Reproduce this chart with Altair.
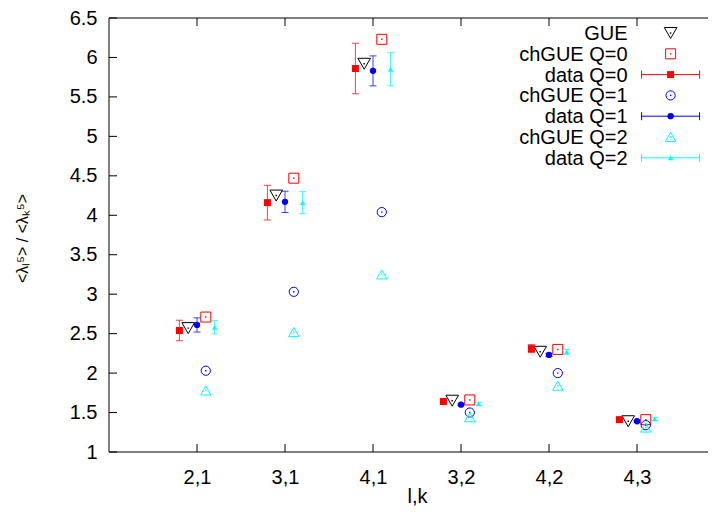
import json
import altair as alt
import pandas as pd

# ---------------- data ----------------
labels = ["2,1", "3,1", "4,1", "3,2", "4,2", "4,3"]
gue = [2.57, 4.25, 5.92, 1.65, 2.27, 1.39]
chgue_q0 = [2.71, 4.47, 6.23, 1.66, 2.30, 1.41]
chgue_q1 = [2.03, 3.03, 4.04, 1.50, 2.00, 1.34]
chgue_q2 = [1.78, 2.52, 3.25, 1.44, 1.84, 1.31]
data_q0 = [2.54, 4.16, 5.86, 1.64, 2.31, 1.41]
data_q0_err = [0.13, 0.22, 0.32, 0.02, 0.05, 0.02]
data_q1 = [2.61, 4.17, 5.83, 1.60, 2.23, 1.39]
data_q1_err = [0.09, 0.135, 0.19, 0.01, 0.02, 0.01]
data_q2 = [2.58, 4.16, 5.85, 1.61, 2.27, 1.42]
data_q2_err = [0.085, 0.14, 0.21, 0.02, 0.03, 0.02]
y_ticks = [1, 1.5, 2, 2.5, 3, 3.5, 4, 4.5, 5, 5.5, 6, 6.5]

# ---------------- layout / style ----------------
W, H = 599, 434
PX_PER_UNIT = 88.0
XMAX = W / PX_PER_UNIT
FONT = "Liberation Sans"
FS = 20
CAP = 0.04  # half width of error-bar caps in x units

# name, values, errors, x-offset, colour, shape, filled, size
series = [
    ("GUE", gue, None, -0.1, "#000000", "triangle-down", False, 160),
    ("chGUE Q=0", chgue_q0, None, 0.1, "#ff0000", "square", False, 100),
    ("data Q=0", data_q0, data_q0_err, -0.2, "#ff0000", "square", True, 49),
    ("chGUE Q=1", chgue_q1, None, 0.1, "#0000ff", "circle", False, 85),
    ("data Q=1", data_q1, data_q1_err, 0.0, "#0000ff", "circle", True, 40),
    ("chGUE Q=2", chgue_q2, None, 0.1, "#00ffff", "triangle-up", False, 110),
    ("data Q=2", data_q2, data_q2_err, 0.2, "#00ffff", "triangle-up", True, 30),
]

xs = alt.Scale(domain=[0, XMAX], nice=False, zero=False)
ys = alt.Scale(domain=[1, 6.5], nice=False, zero=False)

label_expr = json.dumps(labels) + "[datum.value - 1]"
x_axis = alt.Axis(values=list(range(1, len(labels) + 1)), labelExpr=label_expr,
                  labelPadding=15, title="l,k", titleX=308, titleY=50,
                  titleBaseline="alphabetic", labelOverlap=False)
y_axis = alt.Axis(values=y_ticks, labelExpr="format(datum.value, '~g')",
                  labelPadding=12, labelOverlap=False, labelFlush=False,
                  tickCount=12,
                  title="<λₗ⁵> / <λₖ⁵>", titleX=-87, titleY=H / 2 + 3,
                  titleAngle=270, titleBaseline="middle", titleFontSize=16)

one = pd.DataFrame({"a": [0]})
layers = []

# frame (left, top, bottom)
frame_col = "#000000"
layers.append(alt.Chart(one).mark_rule(color=frame_col, strokeWidth=1).encode(
    x=alt.value(0), y=alt.value(0), y2=alt.value(H)))
layers.append(alt.Chart(one).mark_rule(color=frame_col, strokeWidth=1).encode(
    x=alt.value(0), x2=alt.value(W), y=alt.value(0)))
layers.append(alt.Chart(one).mark_rule(color=frame_col, strokeWidth=1).encode(
    x=alt.value(0), x2=alt.value(W), y=alt.value(H)))

# inward ticks
xt = pd.DataFrame({"x": list(range(1, len(labels) + 1))})
yt = pd.DataFrame({"y": y_ticks})
layers.append(alt.Chart(yt).mark_rule(color=frame_col).encode(
    y=alt.Y("y:Q", scale=ys, axis=y_axis), x=alt.value(0), x2=alt.value(8)))
layers.append(alt.Chart(xt).mark_rule(color=frame_col).encode(
    x=alt.X("x:Q", scale=xs, axis=x_axis), y=alt.value(H), y2=alt.value(H - 8)))
layers.append(alt.Chart(xt).mark_rule(color=frame_col).encode(
    x=alt.X("x:Q", scale=xs), y=alt.value(0), y2=alt.value(8)))

# data series
for name, vals, errs, off, color, shape, filled, size in series:
    n = len(vals)
    df = pd.DataFrame({
        "x": [i + 1 + off for i in range(n)],
        "y": vals,
    })
    if errs is not None:
        df["lo"] = [v - e for v, e in zip(vals, errs)]
        df["hi"] = [v + e for v, e in zip(vals, errs)]
        df["xl"] = df["x"] - CAP
        df["xr"] = df["x"] + CAP
        base = alt.Chart(df)
        layers.append(base.mark_rule(color=color, strokeWidth=1, opacity=0.75).encode(
            x=alt.X("x:Q", scale=xs), y=alt.Y("lo:Q", scale=ys), y2="hi:Q"))
        for end in ("lo", "hi"):
            layers.append(base.mark_rule(color=color, strokeWidth=1, opacity=0.75).encode(
                x=alt.X("xl:Q", scale=xs), x2="xr:Q", y=alt.Y(f"{end}:Q", scale=ys)))
    layers.append(alt.Chart(df).mark_point(
        shape=shape, filled=filled, size=size, color=color, strokeWidth=1, opacity=1
    ).encode(x=alt.X("x:Q", scale=xs), y=alt.Y("y:Q", scale=ys)))
    if not filled:
        layers.append(alt.Chart(df).mark_square(size=2, color=color, opacity=1).encode(
            x=alt.X("x:Q", scale=xs), y=alt.Y("y:Q", scale=ys)))

# legend (gnuplot style: label right-aligned, sample on the right)
LX_TEXT = 518.6
LX_MARK = 561.6
LX0, LX1 = 532.6, 590.6
for i, (name, vals, errs, off, color, shape, filled, size) in enumerate(series):
    ly = 15 + 20.8 * i
    layers.append(alt.Chart(one).mark_text(
        text=name, align="right", baseline="middle", font=FONT, fontSize=FS, color="black"
    ).encode(x=alt.value(LX_TEXT), y=alt.value(ly + 1)))
    if errs is not None:
        layers.append(alt.Chart(one).mark_rule(color=color, strokeWidth=1).encode(
            x=alt.value(LX0), x2=alt.value(LX1), y=alt.value(ly)))
        for lx in (LX0, LX1):
            layers.append(alt.Chart(one).mark_rule(color=color, strokeWidth=1).encode(
                x=alt.value(lx), y=alt.value(ly - 4), y2=alt.value(ly + 4)))
    layers.append(alt.Chart(one).mark_point(
        shape=shape, filled=filled, size=size, color=color, strokeWidth=1, opacity=1
    ).encode(x=alt.value(LX_MARK), y=alt.value(ly)))
    if not filled:
        layers.append(alt.Chart(one).mark_square(size=2, color=color, opacity=1).encode(
            x=alt.value(LX_MARK), y=alt.value(ly)))

chart = alt.layer(*layers).properties(
    width=W, height=H,
    autosize=alt.AutoSizeParams(type="none"),
    padding={"left": 101, "top": 10, "right": 0, "bottom": 54},
    background="white",
).configure_view(stroke=None).configure_axis(
    ticks=False, tickSize=0, domain=False, grid=False, labelOverlap=False,
    labelFont=FONT, labelFontSize=FS, labelColor="black",
    titleFont=FONT, titleFontSize=FS, titleFontWeight="normal", titleColor="black",
)

chart.save("out.html", embed_options={"renderer": "svg", "actions": False})
